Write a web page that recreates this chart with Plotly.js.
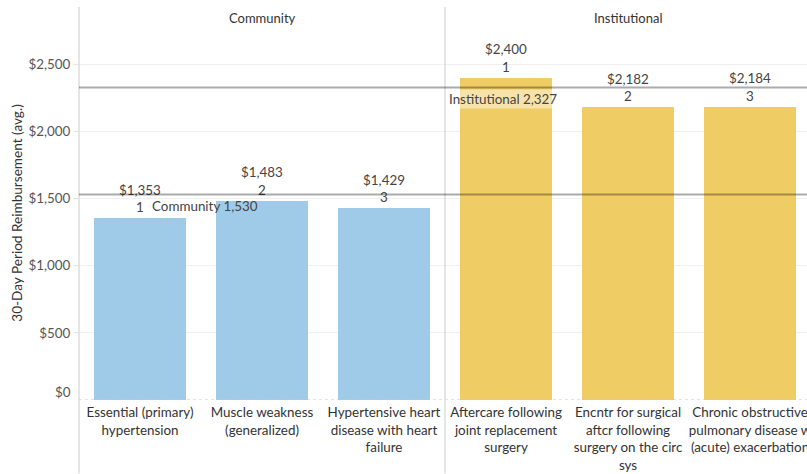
<!DOCTYPE html>
<html>
<head>
<meta charset="utf-8">
<script src="https://cdn.plot.ly/plotly-3.0.1.min.js"></script>
<style>html,body{margin:0;padding:0;background:#fff;}#chart{width:807px;height:474px;}</style>
</head>
<body>
<div id="chart"></div>
<script>
// ---- data ----
var categories = [
  "Essential (primary)<br>hypertension",
  "Muscle weakness<br>(generalized)",
  "Hypertensive heart<br>disease with heart<br>failure",
  "Aftercare following<br>joint replacement<br>surgery",
  "Encntr for surgical<br>aftcr following<br>surgery on the circ<br>sys",
  "Chronic obstructive<br>pulmonary disease w<br>(acute) exacerbation"
];
var panels = ["Community", "Community", "Community", "Institutional", "Institutional", "Institutional"];
var values = [1353, 1483, 1429, 2400, 2182, 2184];
var ranks = [1, 2, 3, 1, 2, 3];
var panelNames = ["Community", "Institutional"];
var refValues = [1530, 2327];
var yTicks = [0, 500, 1000, 1500, 2000, 2500];

// ---- styling ----
var panelColors = {"Community": "#A0CBE8", "Institutional": "#F0CD64"};
var FONT = "Lato, 'Open Sans', sans-serif";
var FS = 13.4;
var idx = categories.map(function (_, i) { return i; });

var trace = {
  type: "bar",
  x: idx,
  y: values,
  customdata: ranks,
  width: 0.754,
  marker: {color: panels.map(function (p) { return panelColors[p]; })},
  texttemplate: "$%{y:,.0f}<br>%{customdata}",
  textposition: "outside",
  constraintext: "none",
  cliponaxis: false,
  textfont: {family: FONT, size: FS, color: "#444"},
  hoverinfo: "skip"
};

var plotTop = 33, plotBottom = 400.5, H = 474, W = 807, L = 79;
var ph = plotBottom - plotTop;
function py(px) { return (plotBottom - px) / ph; }

var shapes = [];
// pane outline / divider lines
shapes.push({type: "line", xref: "paper", yref: "paper", x0: 0, x1: 0, y0: py(H), y1: py(7), line: {color: "#d4d4d4", width: 1.2}});
shapes.push({type: "line", xref: "x", yref: "paper", x0: 2.5, x1: 2.5, y0: py(H), y1: py(7), line: {color: "#d4d4d4", width: 1.2}});
// dotted zero line
shapes.push({type: "line", xref: "paper", yref: "y", x0: 0, x1: 1, y0: 0, y1: 0, line: {color: "#c8c8c8", width: 1, dash: "dot"}});
// reference lines
refValues.forEach(function (v) {
  shapes.push({type: "line", xref: "paper", yref: "y", x0: 0, x1: 1, y0: v, y1: v, layer: "above", line: {color: "rgba(0,0,0,0.33)", width: 2}});
});

var annotations = [];
// panel headers
annotations.push({text: panelNames[0], xref: "x", x: 1, yref: "paper", y: py(18), yanchor: "middle", showarrow: false, font: {family: FONT, size: 13, color: "#333"}});
annotations.push({text: panelNames[1], xref: "x", x: 4, yref: "paper", y: py(18), yanchor: "middle", showarrow: false, font: {family: FONT, size: 13, color: "#333"}});
// reference line labels
annotations.push({text: panelNames[0] + " " + refValues[0].toLocaleString("en-US"), xref: "x", x: 0.53, yref: "y", y: refValues[0], yanchor: "top", yshift: -1, showarrow: false, font: {family: FONT, size: FS, color: "#444"}});
annotations.push({text: panelNames[1] + " " + refValues[1].toLocaleString("en-US"), xref: "x", x: 2.975, yref: "y", y: refValues[1], yanchor: "top", yshift: -1, showarrow: false, bgcolor: "rgba(255,255,255,0.45)", font: {family: FONT, size: FS, color: "#444"}});
// $0 label (shifted up as in the original)
annotations.push({text: "$0", xref: "paper", x: 0, xanchor: "right", xshift: -6, yref: "y", y: 0, yshift: 8, showarrow: false, font: {family: FONT, size: FS, color: "#555"}});
// y axis title
annotations.push({text: "30-Day Period Reimbursement (avg.)", textangle: -90, xref: "paper", x: (17 - L) / (W - L), xanchor: "center", yref: "paper", y: py(213), yanchor: "middle", showarrow: false, font: {family: FONT, size: 13.6, color: "#333"}});

var layout = {
  width: W, height: H,
  margin: {l: L, r: 0, t: plotTop, b: H - plotBottom, pad: 0},
  paper_bgcolor: "#fff", plot_bgcolor: "#fff",
  showlegend: false,
  bargap: 0,
  xaxis: {
    range: [-0.5, 5.467],
    tickmode: "array", tickvals: idx, ticktext: categories,
    showgrid: false, zeroline: false, showline: false,
    ticks: "", ticklabeloverflow: "allow", ticklabelstandoff: 3,
    tickfont: {family: FONT, size: FS, color: "#333"},
    fixedrange: true
  },
  yaxis: {
    range: [0, 2733],
    tickmode: "array", tickvals: yTicks.slice(1),
    ticktext: yTicks.slice(1).map(function (v) { return "$" + v.toLocaleString("en-US"); }),
    showgrid: true, gridcolor: "#f0f0f0", gridwidth: 1,
    zeroline: false, showline: false,
    ticks: "outside", ticklen: 5, tickcolor: "#e6e6e6",
    tickfont: {family: FONT, size: FS, color: "#555"},
    fixedrange: true
  },
  shapes: shapes,
  annotations: annotations,
  font: {family: FONT}
};

Plotly.newPlot("chart", [trace], layout, {staticPlot: true, displayModeBar: false});
</script>
</body>
</html>
